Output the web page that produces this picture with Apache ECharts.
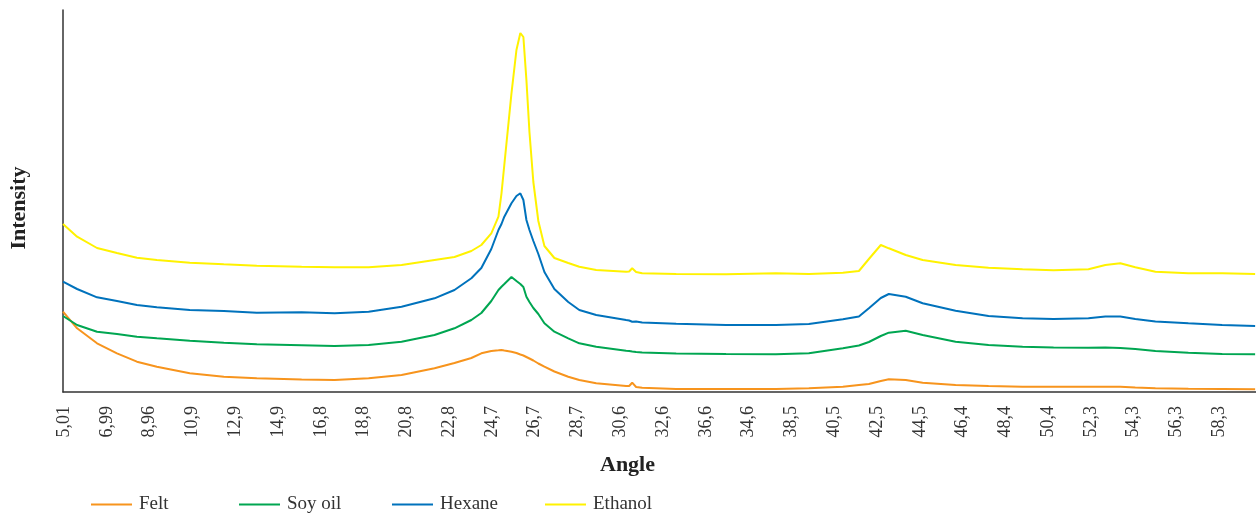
<!DOCTYPE html>
<html>
<head>
<meta charset="utf-8">
<script src="https://cdn.jsdelivr.net/npm/echarts@6/dist/echarts.min.js"></script>
<style>
  html, body { margin: 0; padding: 0; background: #fff; }
  #chart { width: 1256px; height: 516px; }
</style>
</head>
<body>
<div id="chart"></div>
<script>
"use strict";

// x axis tick labels (as printed on the original)
const tickLabels = ['5,01', '6,99', '8,96', '10,9', '12,9', '14,9', '16,8', '18,8', '20,8', '22,8',
  '24,7', '26,7', '28,7', '30,6', '32,6', '36,6', '34,6', '38,5', '40,5', '42,5', '44,5', '46,4',
  '48,4', '50,4', '52,3', '54,3', '56,3', '58,3'];
const tickStart = 5.01;
const tickStep = 1.974;

// sampled angles (2 theta)
const angles = [4.96, 5.61, 6.53, 7.45, 8.37, 9.29, 10.81, 12.38, 13.90, 15.97, 17.49, 19.06, 20.58,
  22.10, 23.02, 23.80, 24.26, 24.72, 25.05, 25.19, 25.32, 25.65, 25.88, 26.06, 26.20, 26.34, 26.48,
  26.66, 26.89, 27.17, 27.63, 28.27, 28.78, 29.56, 30.94, 31.08, 31.22, 31.40, 31.68, 33.25, 35.55,
  37.85, 39.37, 40.94, 41.68, 42.14, 42.69, 43.06, 43.84, 44.62, 46.14, 47.66, 49.23, 50.66, 52.27,
  53.05, 53.74, 54.43, 55.36, 56.88, 58.44, 59.96];

// intensities (arbitrary units)
const felt = [80.3, 63.7, 48.7, 38.7, 30.3, 25.3, 18.7, 15.3, 13.7, 12.5, 12, 13.7, 17,
  23.7, 29, 34, 38.7, 41, 41.7, 42, 41.5, 40.3, 39, 37.5, 36.5, 35, 33.5,
  31.5, 28.5, 25.3, 20.5, 15.3, 12, 8.7, 6, 6, 9.3, 5, 4.3, 3, 3,
  3, 3.7, 5.3, 7, 8, 11, 12.7, 12, 9.3, 7, 6, 5.3, 5.3, 5.3,
  5.3, 5.3, 4.5, 3.7, 3.3, 3, 2.7];
const soyOil = [76, 67, 60.3, 58, 55.3, 53.7, 51.3, 49.3, 47.7, 46.7, 46, 47, 50.3,
  57, 63.7, 72, 79, 91, 102, 105.3, 108, 115, 111, 108, 105, 95.3, 90,
  84, 78, 68.7, 60.3, 53.7, 48.7, 45.3, 41.3, 41, 40.5, 40, 39.5, 38.5, 38,
  37.7, 38.7, 43.7, 46.5, 50, 56, 59.3, 61.3, 57, 50.3, 47, 45.3, 44.5, 44.3,
  44.5, 44, 43, 41, 39.3, 38, 37.7];
const hexane = [110.3, 103, 94.7, 91, 87, 84.7, 82, 81, 79.3, 79.7, 78.7, 80.3, 85.3,
  93.7, 102, 113.7, 124, 143, 162, 168, 175.3, 188.7, 196, 198.7, 192, 172, 162,
  151, 138, 120, 103, 90, 82, 77, 72, 71.5, 70.3, 70.5, 69.5, 68.2, 67,
  67, 68, 72.7, 75.5, 83.7, 94, 98, 95.3, 88.7, 81.3, 76, 73.7, 73, 73.7,
  75.5, 75.5, 73, 70.5, 68.7, 67, 66];
const ethanol = [168, 155.3, 144, 139, 134.3, 132, 129.3, 127.7, 126.3, 125.3, 124.7, 124.7, 127,
  132, 135, 141, 147, 158.7, 175.3, 198.7, 227, 298.7, 342, 359, 355, 312, 260,
  210, 171, 146, 134, 129, 125.3, 122, 120.3, 120.5, 123.7, 120, 118.7, 118, 117.7,
  118.7, 118, 119.3, 121, 133, 147, 143.7, 137, 132, 127, 124.3, 122.7, 121.7, 122.7,
  127, 128.7, 124.7, 120.3, 118.7, 118.7, 118];

const seriesNames = ['Felt', 'Soy oil', 'Hexane', 'Ethanol'];
const seriesColors = ['#f7941d', '#00a651', '#0072bc', '#fff200'];
const seriesValues = [felt, soyOil, hexane, ethanol];

const tickValues = tickLabels.map((t, i) => +(tickStart + i * tickStep).toFixed(3));

function pairs(values) {
  return angles.map((a, i) => [a, values[i]]);
}

var chart = echarts.init(document.getElementById('chart'));
var font = '"Liberation Serif", "DejaVu Serif", serif';
var legendLeft = [86, 234, 387, 540];

chart.setOption({
  animation: false,
  backgroundColor: '#fff',
  textStyle: { fontFamily: font },
  legend: seriesNames.map((name, i) => ({
    data: [name],
    left: legendLeft[i],
    top: 490,
    icon: 'rect',
    itemWidth: 41,
    itemHeight: 2,
    selectedMode: false,
    textStyle: { fontFamily: font, fontSize: 19, color: '#333', padding: [0, 0, 0, 2] }
  })),
  grid: { left: 61, right: 0, top: 10, bottom: 124, containLabel: false },
  xAxis: {
    type: 'value',
    min: 4.96,
    max: 60,
    name: 'Angle',
    nameLocation: 'middle',
    nameGap: 62,
    nameTextStyle: { fontFamily: font, fontSize: 22, fontWeight: 'bold', color: '#222', padding: [0, 64, 0, 0] },
    axisLine: { show: true, lineStyle: { color: '#333', width: 1.5 } },
    axisTick: { show: false },
    splitLine: { show: false },
    axisLabel: {
      customValues: tickValues,
      rotate: 90,
      margin: 14,
      fontSize: 18,
      fontFamily: font,
      color: '#333',
      formatter: function (v) {
        var idx = Math.round((v - tickStart) / tickStep);
        return tickLabels[idx] || '';
      }
    }
  },
  yAxis: {
    type: 'value',
    min: 0,
    max: 382,
    name: 'Intensity',
    nameLocation: 'middle',
    nameGap: 33,
    nameTextStyle: { fontFamily: font, fontSize: 22, fontWeight: 'bold', color: '#222', padding: [0, 14, 0, 0] },
    axisLine: { show: true, lineStyle: { color: '#333', width: 1.5 } },
    axisTick: { show: false },
    axisLabel: { show: false },
    splitLine: { show: false }
  },
  series: seriesNames.map((name, i) => ({
    name: name,
    type: 'line',
    data: pairs(seriesValues[i]),
    showSymbol: false,
    color: seriesColors[i],
    lineStyle: { width: 2, color: seriesColors[i] }
  }))
});
</script>
</body>
</html>
